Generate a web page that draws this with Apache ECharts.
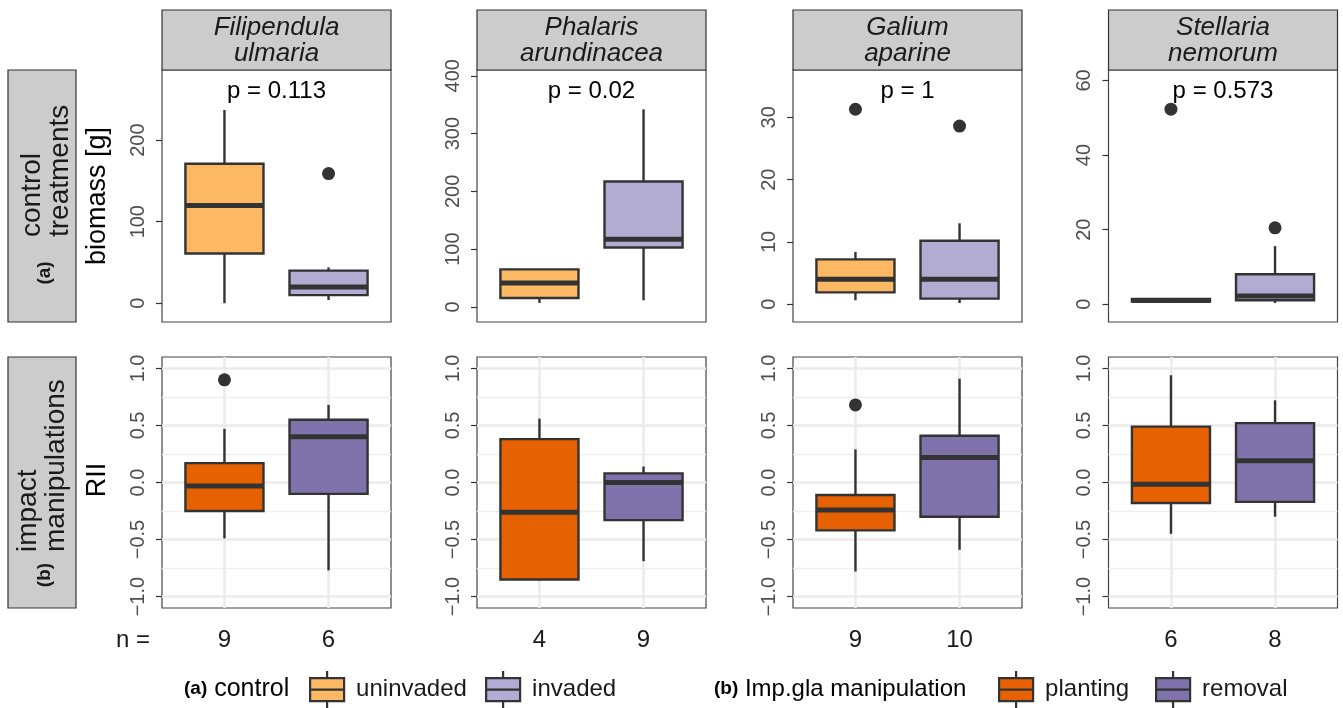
<!DOCTYPE html>
<html><head><meta charset="utf-8">
<script src="https://cdn.jsdelivr.net/npm/echarts@6/dist/echarts.min.js"></script>
<style>html,body{margin:0;padding:0;background:#fff}#c{width:1343px;height:708px}</style>
</head><body><div id="c"></div>
<script>
// ---------------- data ----------------
const speciesGenus = ['Filipendula', 'Phalaris', 'Galium', 'Stellaria'];
const speciesEpithet = ['ulmaria', 'arundinacea', 'aparine', 'nemorum'];
const pValues = ['0.113', '0.02', '1', '0.573'];
const controlGroups = ['uninvaded', 'invaded'];
const impactGroups = ['planting', 'removal'];
// box stats: [lower whisker, Q1, median, Q3, upper whisker]
const biomassUninvaded = [[0, 61, 120, 171, 237], [7, 15.6, 41.6, 65, 65], [0.64, 1.9, 4.0, 7.2, 8.4], [0.5, 0.7, 1.0, 1.4, 1.7]];
const biomassInvaded = [[4, 10, 20, 40, 44], [11.6, 103, 117, 217, 342], [0.2, 0.9, 4.0, 10.2, 13.0], [0.35, 1.1, 2.2, 8.05, 15.6]];
const biomassOutUninvaded = [[], [], [31.3], [52.3]];
const biomassOutInvaded = [[159], [], [28.6], [20.5]];
const riiPlanting = [[-0.49, -0.25, -0.03, 0.17, 0.47], [-0.86, -0.85, -0.26, 0.38, 0.56], [-0.78, -0.42, -0.24, -0.11, 0.29], [-0.45, -0.18, -0.015, 0.49, 0.94]];
const riiRemoval = [[-0.77, -0.1, 0.40, 0.55, 0.68], [-0.69, -0.33, 0.0, 0.08, 0.14], [-0.59, -0.3, 0.22, 0.41, 0.91], [-0.30, -0.17, 0.19, 0.52, 0.72]];
const riiOutPlanting = [[0.9], [], [0.68], []];
const riiOutRemoval = [[], [], [], []];
const nPlanting = [9, 4, 9, 6];
const nRemoval = [6, 9, 10, 8];
const biomassTicks = [[0, 100, 200], [0, 100, 200, 300, 400], [0, 10, 20, 30], [0, 20, 40, 60]];
const biomassRange = [[-23, 286], [-26, 410], [-2.85, 37.6], [-4.75, 62.8]];
const riiTicks = [-1, -0.5, 0, 0.5, 1];
const riiMinorTicks = [-0.75, -0.25, 0.25, 0.75];
const riiRange = [-1.1, 1.1];

// ---------------- style / layout ----------------
const FONT = '"Liberation Sans", Arial, Helvetica, sans-serif';
const colors = { uninvaded: '#FDB863', invaded: '#B2ABD2', planting: '#E66101', removal: '#8073AC' };
const DARK = '#333333';
const panelLeft = [162, 477, 793, 1108.5];
const panelW = 229;
const rowTop = [70, 357];
const rowH = [252, 251];
const HALF_BOX = 0.375;

function renderBox(params, api) {
  const x = api.value(0);
  const lo = api.value(1), q1 = api.value(2), med = api.value(3), q3 = api.value(4), hi = api.value(5);
  const a = api.coord([x - HALF_BOX, q3]);
  const b = api.coord([x + HALF_BOX, q1]);
  const m1 = api.coord([x - HALF_BOX, med]);
  const m2 = api.coord([x + HALF_BOX, med]);
  const pLo = api.coord([x, lo]), pQ1 = api.coord([x, q1]), pQ3 = api.coord([x, q3]), pHi = api.coord([x, hi]);
  const fill = api.visual('color');
  return {
    type: 'group',
    children: [
      { type: 'line', shape: { x1: pLo[0], y1: pLo[1], x2: pQ1[0], y2: pQ1[1] }, style: { stroke: DARK, lineWidth: 2.4 } },
      { type: 'line', shape: { x1: pQ3[0], y1: pQ3[1], x2: pHi[0], y2: pHi[1] }, style: { stroke: DARK, lineWidth: 2.4 } },
      { type: 'rect', shape: { x: a[0], y: a[1], width: b[0] - a[0], height: b[1] - a[1] }, style: { fill: fill, stroke: DARK, lineWidth: 2.4 } },
      { type: 'line', shape: { x1: m1[0], y1: m1[1], x2: m2[0], y2: m2[1] }, style: { stroke: DARK, lineWidth: 5 } }
    ]
  };
}

const grids = [], xAxes = [], yAxes = [], series = [];
function fmtRii(v) { return (v < 0 ? '\u2212' : '') + Math.abs(v).toFixed(1); }

for (let r = 0; r < 2; r++) {
  for (let i = 0; i < 4; i++) {
    const g = grids.length;
    grids.push({ left: panelLeft[i], top: rowTop[r], width: panelW, height: rowH[r], show: true,
      borderColor: '#444', borderWidth: 1.2, backgroundColor: '#fff', containLabel: false });
    xAxes.push({
      gridIndex: g, type: 'value', min: 0.4, max: 2.6,
      axisLine: { show: false },
      axisTick: { show: false, customValues: [1, 2] },
      axisLabel: r === 1 ? {
        show: true, customValues: [1, 2], margin: 20, fontSize: 24, color: '#1a1a1a', fontFamily: FONT,
        formatter: (v) => String(v === 1 ? nPlanting[i] : nRemoval[i])
      } : { show: false },
      splitLine: r === 1 ? { show: true, lineStyle: { color: '#EBEBEB', width: 2.5 } } : { show: false }
    });
    let yIdx = yAxes.length;
    if (r === 0) {
      yAxes.push({
        gridIndex: g, type: 'value', min: biomassRange[i][0], max: biomassRange[i][1],
        axisLine: { show: false },
        axisTick: { show: true, length: 6, customValues: biomassTicks[i], lineStyle: { color: DARK, width: 1.2 } },
        axisLabel: { show: true, customValues: biomassTicks[i], rotate: 90, margin: 14, fontSize: 20, color: '#4D4D4D', fontFamily: FONT },
        splitLine: { show: false }
      });
    } else {
      yAxes.push({
        gridIndex: g, type: 'value', min: riiRange[0], max: riiRange[1],
        axisLine: { show: false },
        axisTick: { show: true, length: 6, customValues: riiTicks, lineStyle: { color: DARK, width: 1.2 } },
        axisLabel: { show: true, customValues: riiTicks, rotate: 90, margin: 14, fontSize: 20, color: '#4D4D4D', fontFamily: FONT, formatter: fmtRii },
        splitLine: { show: true, lineStyle: { color: '#EBEBEB', width: 2.5 } }
      });
      yAxes.push({
        gridIndex: g, type: 'value', min: riiRange[0], max: riiRange[1],
        axisLine: { show: false },
        axisTick: { show: false, customValues: riiMinorTicks },
        axisLabel: { show: false },
        splitLine: { show: true, lineStyle: { color: '#EFEFEF', width: 1.3 } }
      });
    }
    const groups = r === 0 ? controlGroups : impactGroups;
    const stats = r === 0 ? [biomassUninvaded[i], biomassInvaded[i]] : [riiPlanting[i], riiRemoval[i]];
    const outs = r === 0 ? [biomassOutUninvaded[i], biomassOutInvaded[i]] : [riiOutPlanting[i], riiOutRemoval[i]];
    groups.forEach((name, k) => {
      series.push({
        type: 'custom', name: name, xAxisIndex: g, yAxisIndex: yIdx, z: 3,
        itemStyle: { color: colors[name] },
        encode: { x: 0, y: [1, 2, 3, 4, 5] },
        renderItem: renderBox,
        data: [[k + 1].concat(stats[k])]
      });
    });
    const outData = [];
    outs.forEach((arr, k) => arr.forEach(v => outData.push([k + 1, v])));
    series.push({
      type: 'scatter', name: 'outlier', xAxisIndex: g, yAxisIndex: yIdx, z: 4,
      symbol: 'circle', symbolSize: 13, itemStyle: { color: DARK, opacity: 1 }, data: outData
    });
  }
}

// ---------------- graphic decorations ----------------
const graphic = [];
for (let i = 0; i < 4; i++) {
  const cx = panelLeft[i] + panelW / 2;
  graphic.push({ type: 'rect', shape: { x: panelLeft[i], y: 10, width: panelW, height: 60 },
    style: { fill: '#CCCCCC', stroke: DARK, lineWidth: 1.2 } });
  graphic.push({ type: 'text', x: cx, y: 41,
    style: { text: speciesGenus[i] + '\n' + speciesEpithet[i], fontSize: 26, fontStyle: 'italic', fontFamily: FONT,
      lineHeight: 26, fill: '#1a1a1a', textAlign: 'center', textVerticalAlign: 'middle' } });
  graphic.push({ type: 'text', x: cx, y: 91, z: 10,
    style: { text: 'p = ' + pValues[i], fontSize: 24, fontFamily: FONT, fill: '#000', textAlign: 'center', textVerticalAlign: 'middle' } });
}
// row strips
graphic.push({ type: 'rect', shape: { x: 8, y: 70, width: 68, height: 252 }, style: { fill: '#CCCCCC', stroke: DARK, lineWidth: 1.2 } });
graphic.push({ type: 'rect', shape: { x: 8, y: 357, width: 68, height: 251 }, style: { fill: '#CCCCCC', stroke: DARK, lineWidth: 1.2 } });
graphic.push({ type: 'text', x: 46, y: 237, rotation: Math.PI / 2,
  style: { text: 'control\ntreatments', fontSize: 28, lineHeight: 28, fontFamily: FONT, fill: '#1a1a1a', textAlign: 'left', textVerticalAlign: 'middle' } });
graphic.push({ type: 'text', x: 45, y: 273, rotation: Math.PI / 2,
  style: { text: '(a)', fontSize: 19, fontWeight: 'bold', fontFamily: FONT, fill: '#1a1a1a', textAlign: 'center', textVerticalAlign: 'middle' } });
graphic.push({ type: 'text', x: 42, y: 552, rotation: Math.PI / 2,
  style: { text: 'impact\nmanipulations', fontSize: 28, lineHeight: 28, fontFamily: FONT, fill: '#1a1a1a', textAlign: 'left', textVerticalAlign: 'middle' } });
graphic.push({ type: 'text', x: 45, y: 575, rotation: Math.PI / 2,
  style: { text: '(b)', fontSize: 19, fontWeight: 'bold', fontFamily: FONT, fill: '#1a1a1a', textAlign: 'center', textVerticalAlign: 'middle' } });
// axis titles
graphic.push({ type: 'text', x: 98, y: 196, rotation: Math.PI / 2,
  style: { text: 'biomass [g]', fontSize: 27, fontFamily: FONT, fill: '#000', textAlign: 'center', textVerticalAlign: 'middle' } });
graphic.push({ type: 'text', x: 98, y: 480, rotation: Math.PI / 2,
  style: { text: 'RII', fontSize: 27, fontFamily: FONT, fill: '#000', textAlign: 'center', textVerticalAlign: 'middle' } });
graphic.push({ type: 'text', x: 133, y: 640,
  style: { text: 'n =', fontSize: 24, fontFamily: FONT, fill: '#1a1a1a', textAlign: 'center', textVerticalAlign: 'middle' } });
// legend titles
graphic.push({ type: 'text', x: 184, y: 689,
  style: { text: '{b|(a)} control', fontSize: 25, fontFamily: FONT, fill: '#000', textAlign: 'left', textVerticalAlign: 'middle',
    rich: { b: { fontSize: 19, fontWeight: 'bold', fontFamily: FONT, fill: '#000' } } } });
graphic.push({ type: 'text', x: 714, y: 689,
  style: { text: '{b|(b)} Imp.gla manipulation', fontSize: 24, fontFamily: FONT, fill: '#000', textAlign: 'left', textVerticalAlign: 'middle',
    rich: { b: { fontSize: 19, fontWeight: 'bold', fontFamily: FONT, fill: '#000' } } } });

// ---------------- legends ----------------
const KEY = 'path://M17,0L17,7M0,7L34,7L34,30L0,30ZM0,18.5L34,18.5M17,30L17,37';
const legendPos = { uninvaded: 309, invaded: 485, planting: 998, removal: 1155 };
const legends = Object.keys(legendPos).map(name => ({
  left: legendPos[name], top: 670, padding: 0, selectedMode: false,
  itemWidth: 34, itemHeight: 37,
  textStyle: { fontSize: 24, fontFamily: FONT, color: '#1a1a1a', padding: [0, 0, 0, 7] },
  data: [{ name: name, icon: KEY, itemStyle: { color: colors[name], borderColor: DARK, borderWidth: 2.2 } }]
}));

const chart = echarts.init(document.getElementById('c'), null, { renderer: 'canvas' });
chart.setOption({
  animation: false,
  backgroundColor: '#fff',
  grid: grids, xAxis: xAxes, yAxis: yAxes, series: series,
  legend: legends,
  graphic: graphic
});
</script>
</body></html>
